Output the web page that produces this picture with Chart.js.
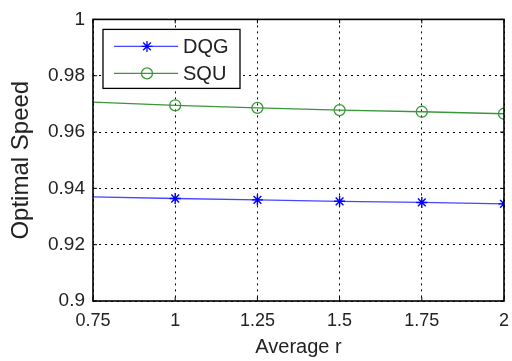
<!DOCTYPE html>
<html>
<head>
<meta charset="utf-8">
<script src="https://cdn.jsdelivr.net/npm/chart.js@4/dist/chart.umd.min.js"></script>
<style>
  html, body { margin: 0; padding: 0; background: #fff; }
  #wrap { width: 512px; height: 361px; }
</style>
</head>
<body>
<div id="wrap"><canvas id="graphCanvas"></canvas></div>
<script>
// values
let averageR = [0.75, 1, 1.25, 1.5, 1.75, 2];
let dqg = [0.9370, 0.9364, 0.9359, 0.9354, 0.9350, 0.9345];
let squ = [0.9706, 0.9695, 0.9686, 0.9678, 0.9672, 0.9665];
let xTicks = [0.75, 1, 1.25, 1.5, 1.75, 2];
let yTicks = [0.9, 0.92, 0.94, 0.96, 0.98, 1];

let fontFamily = '"Liberation Sans", Arial, sans-serif';

function toPoints(xs, ys) {
  let pts = [];
  for (let i in xs) {
    pts.push({ x: xs[i], y: ys[i] });
  }
  return pts;
}

// no marker at the first x (0.75), as in the reference
let markerRadius = averageR.map(function(v, i) { return i === 0 ? 0 : 5.5; });

// box around the plot, inward ticks, legend inside the axes
let boxPlugin = {
  id: 'boxAndLegend',
  afterDraw: function(chart) {
    let ctx = chart.ctx;
    let a = chart.chartArea;
    let xs = chart.scales.x, ys = chart.scales.y;
    ctx.save();
    ctx.strokeStyle = '#000';
    ctx.lineWidth = 1;
    ctx.beginPath();
    xTicks.forEach(function(v) {
      let px = xs.getPixelForValue(v);
      ctx.moveTo(px, a.bottom); ctx.lineTo(px, a.bottom - 4);
      ctx.moveTo(px, a.top); ctx.lineTo(px, a.top + 4);
    });
    yTicks.forEach(function(v) {
      let py = ys.getPixelForValue(v);
      ctx.moveTo(a.left, py); ctx.lineTo(a.left + 4, py);
      ctx.moveTo(a.right, py); ctx.lineTo(a.right - 4, py);
    });
    ctx.stroke();
    ctx.lineWidth = 1.6;
    ctx.strokeRect(a.left, a.top, a.right - a.left, a.bottom - a.top);

    // legend
    let lx = a.left + 10, ly = a.top + 10, lw = 137, lh = 59;
    ctx.fillStyle = '#fff';
    ctx.fillRect(lx, ly, lw, lh);
    ctx.lineWidth = 1.3;
    ctx.strokeStyle = '#000';
    ctx.strokeRect(lx, ly, lw, lh);
    let sets = chart.data.datasets;
    for (let i = 0; i < sets.length; i++) {
      let ds = sets[i];
      let y = ly + 17 + i * 27;
      ctx.strokeStyle = ds.borderColor;
      ctx.lineWidth = 1.3;
      ctx.beginPath();
      ctx.moveTo(lx + 11, y);
      ctx.lineTo(lx + 75, y);
      ctx.stroke();
      ctx.strokeStyle = ds.pointBorderColor;
      ctx.fillStyle = ds.pointBackgroundColor;
      Chart.helpers.drawPoint(ctx, {
        pointStyle: ds.pointStyle, radius: 5.5, rotation: 0, borderWidth: 1.3
      }, lx + 44, y);
      ctx.fillStyle = '#222';
      ctx.font = '20px ' + fontFamily;
      ctx.textBaseline = 'middle';
      ctx.textAlign = 'left';
      ctx.fillText(ds.label, lx + 80, y + 1);
    }
    ctx.restore();
  }
};

let graphTarget = document.getElementById('graphCanvas');
let lineGraph = new Chart(graphTarget, {
  type: 'line',
  data: {
    datasets: [{
      label: 'DQG',
      data: toPoints(averageR, dqg),
      borderColor: '#4646ff',
      backgroundColor: '#0000ff',
      pointBorderColor: '#0000ff',
      pointBackgroundColor: '#0000ff',
      pointStyle: 'star',
      pointRadius: markerRadius,
      pointBorderWidth: 1.4,
      borderWidth: 1.3,
      fill: false
    }, {
      label: 'SQU',
      data: toPoints(averageR, squ),
      borderColor: '#3a963a',
      backgroundColor: 'rgba(0,0,0,0)',
      pointBorderColor: '#3a963a',
      pointBackgroundColor: 'rgba(0,0,0,0)',
      pointStyle: 'circle',
      pointRadius: markerRadius,
      pointBorderWidth: 1.3,
      borderWidth: 1.3,
      fill: false
    }]
  },
  options: {
    responsive: true,
    maintainAspectRatio: false,
    animation: false,
    events: [],
    layout: { padding: { left: 0, right: 8, top: 16, bottom: 0 } },
    plugins: {
      legend: { display: false },
      tooltip: { enabled: false }
    },
    scales: {
      x: {
        type: 'linear',
        min: 0.75,
        max: 2,
        afterBuildTicks: function(axis) {
          axis.ticks = xTicks.map(function(v) { return { value: v }; });
        },
        afterFit: function(axis) {
          axis.height = 60;
          axis.paddingLeft = 0;
          axis.paddingRight = 0;
        },
        ticks: {
          color: '#222',
          font: { family: fontFamily, size: 18 },
          padding: 9,
          maxRotation: 0,
          callback: function(v) { return String(v); }
        },
        grid: { color: '#000', lineWidth: 1, drawTicks: false },
        border: { display: false, dash: [2, 4] },
        title: {
          display: true,
          text: 'Average r',
          color: '#222',
          font: { family: fontFamily, size: 20 },
          padding: { top: 0, bottom: 2 }
        }
      },
      y: {
        type: 'linear',
        min: 0.9,
        max: 1,
        afterBuildTicks: function(axis) {
          axis.ticks = yTicks.map(function(v) { return { value: v }; });
        },
        afterFit: function(axis) { axis.width = 93; },
        ticks: {
          color: '#222',
          font: { family: fontFamily, size: 19 },
          padding: 8,
          callback: function(v) { return String(Math.round(v * 100) / 100); }
        },
        grid: { color: '#000', lineWidth: 1, drawTicks: false },
        border: { display: false, dash: [2, 4] },
        title: {
          display: true,
          text: 'Optimal Speed',
          color: '#222',
          font: { family: fontFamily, size: 24 },
          padding: { top: 7, bottom: 0 }
        }
      }
    }
  },
  plugins: [boxPlugin]
});
</script>
</body>
</html>
